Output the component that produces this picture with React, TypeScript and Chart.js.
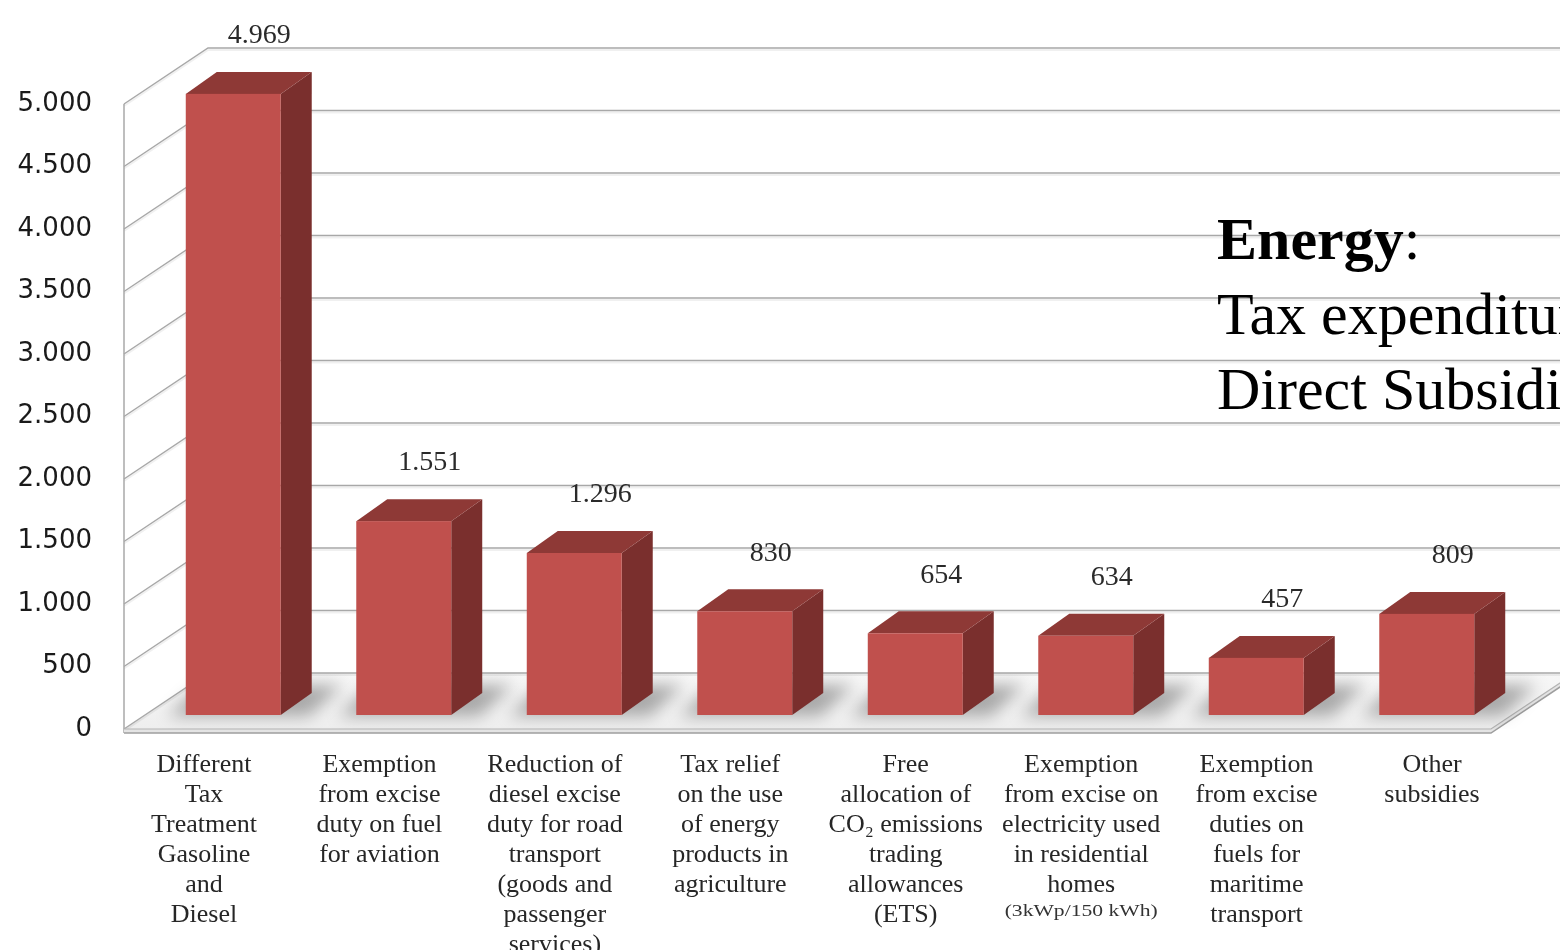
import React, { useEffect, useRef } from 'react';
import { Chart, registerables } from 'chart.js';

Chart.register(...registerables);

// ---------- data ----------
const categories: string[][] = [
  ['Different', 'Tax', 'Treatment', 'Gasoline', 'and', 'Diesel'],
  ['Exemption', 'from excise', 'duty on fuel', 'for aviation'],
  ['Reduction of', 'diesel excise', 'duty for road', 'transport', '(goods and', 'passenger', 'services)'],
  ['Tax relief', 'on the use', 'of energy', 'products in', 'agriculture'],
  ['Free', 'allocation of', 'CO\u2082 emissions', 'trading', 'allowances', '(ETS)'],
  ['Exemption', 'from excise on', 'electricity used', 'in residential', 'homes'],
  ['Exemption', 'from excise', 'duties on', 'fuels for', 'maritime', 'transport'],
  ['Other', 'subsidies'],
];
const categoryNotes: string[] = ['', '', '', '', '', '(3kWp/150 kWh)', '', ''];
const values: number[] = [4969, 1551, 1296, 830, 654, 634, 457, 809];
const yMin = 0;
const yMax = 5000;
const yStep = 500;
const titleBold = 'Energy';
const titleLines: string[] = ['Tax expenditures', 'Direct Subsidies'];

// ---------- helpers ----------
const fmt = (v: number) => String(v).replace(/\B(?=(\d{3})+(?!\d))/g, '.');

const WALL_DX = 84;
const WALL_DY = -56;
const BAR_FX = 21;
const BAR_FY = -14;
const BAR_DX = 31;
const BAR_DY = -22;

const COL_FRONT = '#c0504d';
const COL_TOP = '#8e3936';
const COL_SIDE = '#7a2f2d';
const GRID = '#a8a8a8';

function poly(ctx: CanvasRenderingContext2D, pts: number[][]) {
  ctx.beginPath();
  ctx.moveTo(pts[0][0], pts[0][1]);
  for (let i = 1; i < pts.length; i++) ctx.lineTo(pts[i][0], pts[i][1]);
  ctx.closePath();
}

function line(ctx: CanvasRenderingContext2D, pts: number[][]) {
  ctx.beginPath();
  ctx.moveTo(pts[0][0], pts[0][1]);
  for (let i = 1; i < pts.length; i++) ctx.lineTo(pts[i][0], pts[i][1]);
  ctx.stroke();
}

const threeD = {
  id: 'threeD',
  beforeDatasetsDraw(chart: any) {
    const { ctx, chartArea } = chart;
    const y = chart.scales.y;
    const { left, right, bottom } = chartArea;
    const x0 = left - 3;
    ctx.save();

    // floor top surface
    const g = ctx.createLinearGradient(0, bottom + WALL_DY, 0, bottom);
    g.addColorStop(0, '#f7f7f7');
    g.addColorStop(1, '#eeeeee');
    ctx.fillStyle = g;
    poly(ctx, [[x0, bottom], [right, bottom], [right + WALL_DX, bottom + WALL_DY], [x0 + WALL_DX, bottom + WALL_DY]]);
    ctx.fill();

    // gridlines on left wall + back wall
    for (const t of y.ticks) {
      const py = y.getPixelForValue(t.value);
      ctx.lineWidth = 2;
      ctx.strokeStyle = 'rgba(0,0,0,0.06)';
      line(ctx, [[x0, py + 2], [x0 + WALL_DX, py + WALL_DY + 2], [right + WALL_DX + 10, py + WALL_DY + 2]]);
      ctx.lineWidth = 1.5;
      ctx.strokeStyle = GRID;
      line(ctx, [[x0, py], [x0 + WALL_DX, py + WALL_DY], [right + WALL_DX + 10, py + WALL_DY]]);
    }
    // left wall front edge
    ctx.lineWidth = 1.5;
    ctx.strokeStyle = GRID;
    line(ctx, [[x0, y.getPixelForValue(yMax)], [x0, bottom + 4]]);

    // floor slab front + right side
    ctx.fillStyle = '#e4e4e4';
    ctx.fillRect(x0, bottom, right - x0, 4);
    poly(ctx, [[right, bottom], [right + WALL_DX, bottom + WALL_DY], [right + WALL_DX, bottom + WALL_DY + 4], [right, bottom + 4]]);
    ctx.fill();
    ctx.strokeStyle = '#b4b4b4';
    ctx.lineWidth = 1.2;
    line(ctx, [[x0, bottom], [right, bottom], [right + WALL_DX, bottom + WALL_DY]]);
    ctx.strokeStyle = '#9e9e9e';
    ctx.lineWidth = 1.5;
    line(ctx, [[x0, bottom + 4], [right, bottom + 4], [right + WALL_DX, bottom + WALL_DY + 4]]);

    // soft shadows of bars on the floor
    const meta = chart.getDatasetMeta(0);
    ctx.save();
    ctx.beginPath();
    ctx.rect(x0, bottom + WALL_DY, right - x0 + WALL_DX, -WALL_DY);
    ctx.clip();
    ctx.filter = 'blur(8px)';
    ctx.fillStyle = 'rgba(0,0,0,0.30)';
    for (const el of meta.data) {
      const w = el.width;
      const xl = el.x - w / 2 + BAR_FX;
      const xr = el.x + w / 2 + BAR_FX;
      const yb = el.base + BAR_FY;
      poly(ctx, [[xl - 18, yb + 1], [xr + 28, yb + 1], [xr + 28 + 34, yb - 30], [xl - 18 + 34, yb - 30]]);
      ctx.fill();
    }
    ctx.restore();
    ctx.restore();
  },
  afterDatasetsDraw(chart: any) {
    const { ctx } = chart;
    const meta = chart.getDatasetMeta(0);
    ctx.save();
    meta.data.forEach((el: any, i: number) => {
      const w = el.width;
      const xl = el.x - w / 2 + BAR_FX;
      const xr = el.x + w / 2 + BAR_FX;
      const yt = el.y + BAR_FY;
      const yb = el.base + BAR_FY;
      // side
      ctx.fillStyle = COL_SIDE;
      poly(ctx, [[xr, yt], [xr + BAR_DX, yt + BAR_DY], [xr + BAR_DX, yb + BAR_DY], [xr, yb]]);
      ctx.fill();
      // top
      ctx.fillStyle = COL_TOP;
      poly(ctx, [[xl, yt], [xr, yt], [xr + BAR_DX, yt + BAR_DY], [xl + BAR_DX, yt + BAR_DY]]);
      ctx.fill();
      // front
      ctx.fillStyle = COL_FRONT;
      ctx.fillRect(xl, yt, xr - xl, yb - yt);
      // value label
      ctx.fillStyle = '#2a2a2a';
      ctx.font = '28px "Liberation Serif", serif';
      ctx.textAlign = 'center';
      ctx.textBaseline = 'middle';
      ctx.fillText(fmt(values[i]), el.x + BAR_FX + 26, el.y - 72);
    });

    // small notes under category labels
    const xl = chart.scales.xl;
    const area = chart.chartArea;
    categoryNotes.forEach((note, i) => {
      if (!note) return;
      const px = xl.getPixelForValue(i);
      const py = area.bottom + 21 + 15 + categories[i].length * 30 - 3;
      ctx.save();
      ctx.translate(px, py);
      ctx.scale(1.35, 1);
      ctx.fillStyle = '#333';
      ctx.font = '16px "Liberation Serif", serif';
      ctx.textAlign = 'center';
      ctx.textBaseline = 'middle';
      ctx.fillText(note, 0, 0);
      ctx.restore();
    });
    ctx.restore();
  },
};

export default function App() {
  const ref = useRef<HTMLCanvasElement | null>(null);

  useEffect(() => {
    if (!ref.current) return;
    const chart = new Chart(ref.current, {
      type: 'bar',
      data: {
        labels: categories.map((c) => c.join(' ')),
        datasets: [
          {
            data: values,
            backgroundColor: 'rgba(0,0,0,0)',
            borderWidth: 0,
            categoryPercentage: 1,
            barPercentage: 0.557,
            xAxisID: 'x',
            yAxisID: 'y',
          },
        ],
      },
      options: {
        responsive: false,
        animation: false,
        events: [],
        layout: { padding: { top: 104, right: 69, left: 0, bottom: 0 } },
        plugins: { legend: { display: false }, tooltip: { enabled: false } },
        scales: {
          x: { type: 'category', display: false, offset: true },
          xl: {
            type: 'linear',
            position: 'bottom',
            offset: false,
            min: -0.4389,
            max: 7.3363,
            bounds: 'data',
            grid: { display: false, drawTicks: false, offset: false },
            border: { display: false },
            afterBuildTicks: (s: any) => {
              s.ticks = categories.map((_, i) => ({ value: i }));
            },
            afterFit: (s: any) => {
              s.height = 221;
            },
            ticks: {
              autoSkip: false,
              maxRotation: 0,
              minRotation: 0,
              padding: 21,
              color: '#262626',
              font: { family: '"Liberation Serif", serif', size: 26, lineHeight: '30px' },
              callback: (v: any) => categories[Math.round(Number(v))] || '',
            },
          },
          y: {
            min: yMin,
            max: yMax,
            grid: { display: false, drawTicks: false },
            border: { display: false },
            afterFit: (s: any) => {
              s.width = 127;
            },
            ticks: {
              stepSize: yStep,
              padding: 35,
              color: '#1a1a1a',
              font: { family: '"DejaVu Sans", sans-serif', size: 26 },
              callback: (v: any) => fmt(Number(v)),
            },
          },
        },
      } as any,
      plugins: [threeD],
    });
    return () => chart.destroy();
  }, []);

  return (
    <div
      style={{
        position: 'fixed',
        left: 0,
        top: 0,
        width: 1560,
        height: 950,
        overflow: 'hidden',
        background: '#fff',
      }}
    >
      <canvas ref={ref} width={1560} height={950} style={{ position: 'absolute', left: 0, top: 0 }} />
      <div
        style={{
          position: 'absolute',
          left: 1217,
          top: 202,
          fontFamily: '"Liberation Serif", serif',
          fontSize: 60,
          lineHeight: '75px',
          color: '#000',
          whiteSpace: 'nowrap',
        }}
      >
        <div>
          <b>{titleBold}</b>:
        </div>
        {titleLines.map((t) => (
          <div key={t}>{t}</div>
        ))}
      </div>
    </div>
  );
}
